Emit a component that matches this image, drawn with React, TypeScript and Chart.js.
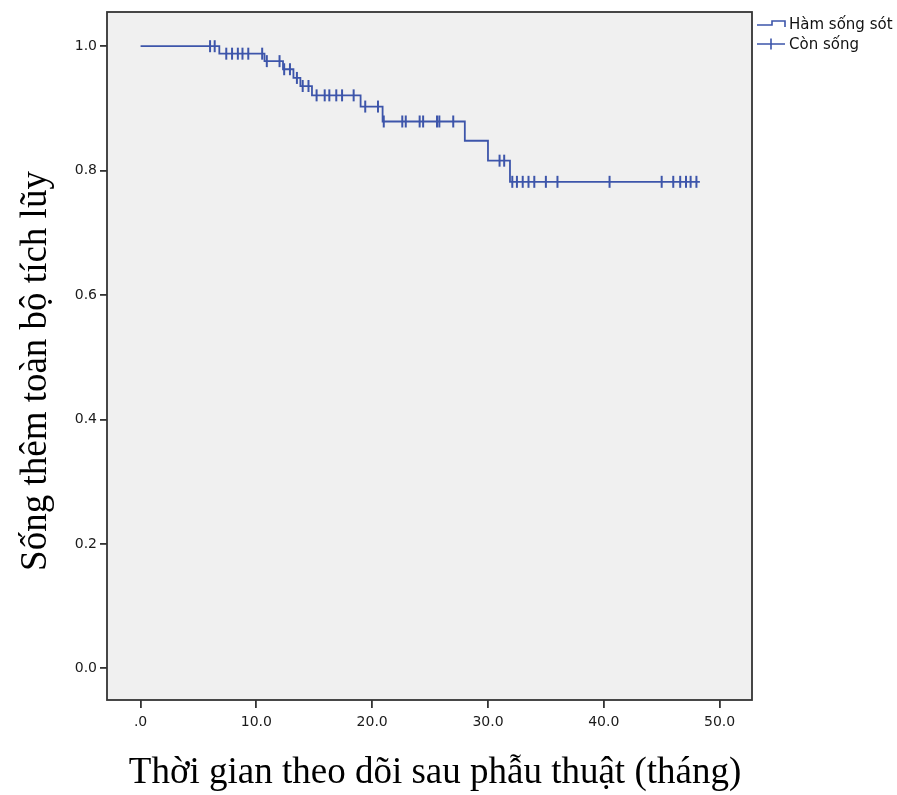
import React, { useEffect, useRef } from 'react';
import { Chart, registerables } from 'chart.js';

Chart.register(...registerables);

// Kaplan–Meier step curve (time in months, cumulative survival)
const stepTimes = [0, 6.8, 10.7, 12.3, 13.2, 13.8, 14.8, 19.0, 20.9, 28.0, 30.0, 31.9, 48.3];
const stepSurvival = [1.0, 0.988, 0.976, 0.963, 0.949, 0.936, 0.921, 0.903, 0.879, 0.848, 0.816, 0.782, 0.782];

// Censored observations ("Còn sống")
const censorTimes = [
  6.0, 6.4,
  7.4, 7.9, 8.4, 8.8, 9.3, 10.5,
  10.9, 12.0,
  12.4, 12.9,
  13.5,
  14.0, 14.5,
  15.2, 15.9, 16.3, 16.9, 17.4, 18.4,
  19.4, 20.5,
  21.0, 22.6, 22.9, 24.1, 24.4, 25.6, 25.8, 27.0,
  31.0, 31.4,
  32.1, 32.5, 33.0, 33.5, 34.0, 35.0, 36.0, 40.5, 45.0, 46.0, 46.6, 47.1, 47.5, 48.0,
];
const censorSurvival = [
  1.0, 1.0,
  0.988, 0.988, 0.988, 0.988, 0.988, 0.988,
  0.976, 0.976,
  0.963, 0.963,
  0.949,
  0.936, 0.936,
  0.921, 0.921, 0.921, 0.921, 0.921, 0.921,
  0.903, 0.903,
  0.879, 0.879, 0.879, 0.879, 0.879, 0.879, 0.879, 0.879,
  0.816, 0.816,
  0.782, 0.782, 0.782, 0.782, 0.782, 0.782, 0.782, 0.782, 0.782, 0.782, 0.782, 0.782, 0.782, 0.782,
];

const xTickValues = [0, 10, 20, 30, 40, 50];
const yTickValues = [0, 0.2, 0.4, 0.6, 0.8, 1.0];

const legendLabels = ['Hàm sống sót', 'Còn sống'];
const xTitle = 'Thời gian theo dõi sau phẫu thuật (tháng)';
const yTitle = 'Sống thêm toàn bộ tích lũy';

const LINE_COLOR = '#3d55aa';
const FRAME_COLOR = '#333333';

const framePlugin = {
  id: 'frame',
  beforeDraw(chart: any) {
    const { ctx, chartArea: a } = chart;
    ctx.save();
    ctx.fillStyle = '#ffffff';
    ctx.fillRect(0, 0, chart.width, chart.height);
    ctx.fillStyle = '#f0f0f0';
    ctx.fillRect(a.left, a.top, a.right - a.left, a.bottom - a.top);
    ctx.restore();
  },
  afterDraw(chart: any) {
    const { ctx, chartArea: a } = chart;
    ctx.save();
    ctx.strokeStyle = FRAME_COLOR;
    ctx.lineWidth = 1.8;
    ctx.strokeRect(a.left, a.top, a.right - a.left, a.bottom - a.top);

    // legend
    const lx = a.right + 5;
    ctx.strokeStyle = LINE_COLOR;
    ctx.lineWidth = 1.6;
    ctx.beginPath();
    ctx.moveTo(lx, 25);
    ctx.lineTo(lx + 15, 25);
    ctx.lineTo(lx + 15, 21);
    ctx.lineTo(lx + 28, 21);
    ctx.lineTo(lx + 28, 27);
    ctx.stroke();
    ctx.beginPath();
    ctx.moveTo(lx, 44);
    ctx.lineTo(lx + 28, 44);
    ctx.moveTo(lx + 14, 38.5);
    ctx.lineTo(lx + 14, 49.5);
    ctx.stroke();
    ctx.fillStyle = '#111111';
    ctx.font = '15px "DejaVu Sans"';
    ctx.textBaseline = 'middle';
    ctx.textAlign = 'left';
    ctx.fillText(legendLabels[0], lx + 32, 25);
    ctx.fillText(legendLabels[1], lx + 32, 45);

    // axis titles
    ctx.fillStyle = '#000000';
    ctx.font = '37px "Liberation Serif"';
    ctx.textAlign = 'center';
    ctx.textBaseline = 'middle';
    ctx.fillText(xTitle, 435, 773);
    ctx.translate(36, 371);
    ctx.rotate(-Math.PI / 2);
    ctx.fillText(yTitle, 0, 0);
    ctx.restore();
  },
};

export default function App() {
  const ref = useRef<HTMLCanvasElement>(null);
  useEffect(() => {
    if (!ref.current) return;
    const chart = new Chart(ref.current, {
      type: 'line',
      data: {
        datasets: [
          {
            label: legendLabels[0],
            data: stepTimes.map((t, i) => ({ x: t, y: stepSurvival[i] })),
            stepped: true,
            borderColor: LINE_COLOR,
            borderWidth: 1.8,
            pointRadius: 0,
            fill: false,
          },
          {
            label: legendLabels[1],
            data: censorTimes.map((t, i) => ({ x: t, y: censorSurvival[i] })),
            showLine: false,
            pointStyle: 'line',
            rotation: 90,
            pointRadius: 6,
            pointBorderWidth: 2,
            borderColor: LINE_COLOR,
            pointBorderColor: LINE_COLOR,
            pointHoverRadius: 6,
          } as any,
        ],
      },
      options: {
        responsive: false,
        animation: false,
        events: [],
        layout: { padding: { top: 12, right: 145, left: 0, bottom: 0 } },
        plugins: { legend: { display: false }, tooltip: { enabled: false }, title: { display: false } },
        scales: {
          x: {
            type: 'linear',
            min: -2.9,
            max: 52.8,
            afterBuildTicks: (s: any) => { s.ticks = xTickValues.map((v) => ({ value: v })); },
            afterFit: (s: any) => { s.height = 95; },
            ticks: {
              callback: (v: any) => (Number(v) === 0 ? '.0' : Number(v).toFixed(1)),
              font: { family: '"DejaVu Sans"', size: 14 },
              color: '#1a1a1a',
              padding: 6,
              maxRotation: 0,
            },
            grid: { drawOnChartArea: false, drawTicks: true, tickLength: 8, color: FRAME_COLOR, lineWidth: 1.8 },
            border: { display: false },
          },
          y: {
            type: 'linear',
            min: -0.051,
            max: 1.055,
            afterBuildTicks: (s: any) => { s.ticks = yTickValues.map((v) => ({ value: v })); },
            afterFit: (s: any) => { s.width = 107; },
            ticks: {
              callback: (v: any) => Number(v).toFixed(1),
              font: { family: '"DejaVu Sans"', size: 14 },
              color: '#1a1a1a',
              padding: 3,
            },
            grid: { drawOnChartArea: false, drawTicks: true, tickLength: 7, color: FRAME_COLOR, lineWidth: 1.8 },
            border: { display: false },
          },
        },
      },
      plugins: [framePlugin],
    } as any);
    return () => chart.destroy();
  }, []);
  return (
    <canvas
      ref={ref}
      width={897}
      height={795}
      style={{ position: 'absolute', left: 0, top: 0, display: 'block' }}
    />
  );
}
